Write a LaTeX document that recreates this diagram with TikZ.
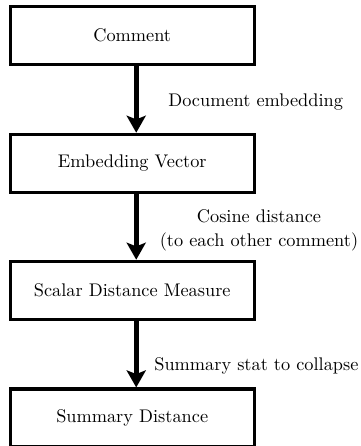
\documentclass[tikz,border=0pt]{standalone}
\usetikzlibrary{arrows.meta}
\begin{document}
\begin{tikzpicture}[x=0.5465pt,y=-0.5465pt,
  stagebox/.style={draw, line width=1.7pt, minimum width=133.3pt, minimum height=31.7pt, inner sep=0pt, font=\fontsize{10}{12}\selectfont},
  flowarrow/.style={line width=2.6pt, -{Stealth[length=9.3pt,width=10.4pt,inset=2pt]}},
  steplabel/.style={inner sep=0pt, font=\fontsize{10}{13}\selectfont}]
\useasboundingbox (0,0) rectangle (361,446);
\node[stagebox] (b1) at (132.2,35.3) {Comment};
\node[stagebox] (b2) at (132.2,163.3) {Embedding Vector};
\node[stagebox] (b3) at (132.2,290.3) {Scalar Distance Measure};
\node[stagebox] (b4) at (132.2,418) {Summary Distance};
\draw[flowarrow] ([xshift=2.2pt]b1.south) -- ([xshift=2.2pt]b2.north);
\draw[flowarrow] ([xshift=2.2pt]b2.south) -- ([xshift=2.2pt]b3.north);
\draw[flowarrow] ([xshift=2.2pt]b3.south) -- ([xshift=2.2pt]b4.north);
\node[steplabel, anchor=base west] (l1) at (168,106.5) {Document embedding};
\node[steplabel, anchor=base, align=center] (l2) at (259,246.5) {Cosine distance\\(to each other comment)};
\node[steplabel, anchor=base west] (l3) at (154,370) {Summary stat to collapse};
\end{tikzpicture}
\end{document}
